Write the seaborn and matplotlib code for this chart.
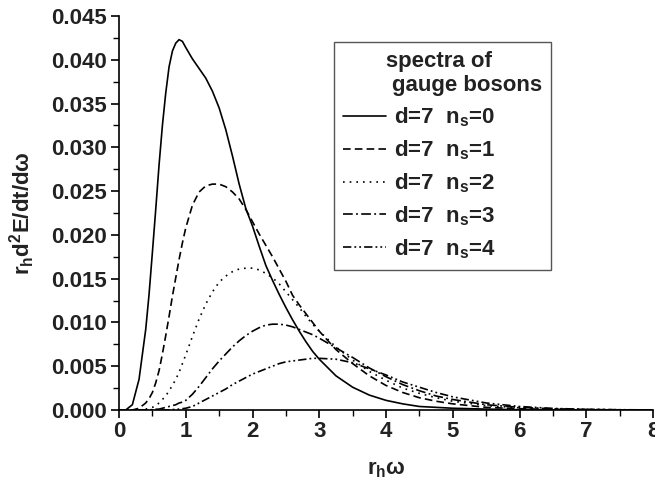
import numpy as np
import pandas as pd
import matplotlib
matplotlib.use("Agg")
import matplotlib.pyplot as plt
from matplotlib.ticker import MultipleLocator, FormatStrFormatter
import seaborn as sns

# Frequency grid (r_h * omega)
omega = [0.0, 0.1, 0.2, 0.3, 0.4, 0.45, 0.5, 0.55, 0.6, 0.65, 0.7, 0.75, 0.8, 0.85, 0.9, 0.95,
         1.0, 1.1, 1.2, 1.3, 1.4, 1.5, 1.6, 1.7, 1.8, 1.9,
         2.0, 2.1, 2.2, 2.3, 2.4, 2.5, 2.6, 2.7, 2.8, 2.9,
         3.0, 3.25, 3.5, 3.75, 4.0, 4.25, 4.5, 4.75, 5.0,
         5.5, 6.0, 6.5, 7.0, 7.5, 8.0]

# Emission spectra of gauge bosons, d=7, for n_s = 0..4
spec_ns0 = [0.0, 0.0, 0.0006, 0.0035, 0.0092, 0.0132, 0.0180, 0.0229, 0.0280, 0.0325, 0.0362, 0.0392,
            0.0410, 0.0419, 0.0423, 0.0421,
            0.0414, 0.0401, 0.0390, 0.0379, 0.0364, 0.0345, 0.0320, 0.0290, 0.0258, 0.0230,
            0.0210, 0.0187, 0.0165, 0.0148, 0.0132, 0.0117, 0.0103, 0.0090, 0.0078, 0.0067,
            0.0058, 0.0039, 0.0026, 0.0017, 0.0011, 0.0007, 0.0004, 0.0003, 0.0002,
            0.0001, 0.00003, 0.00001, 0.0, 0.0, 0.0]
spec_ns1 = [0.0, 0.0, 0.0, 0.0002, 0.0008, 0.0013, 0.0020, 0.0031, 0.0045, 0.0064, 0.0085, 0.0107,
            0.0130, 0.0151, 0.0172, 0.0191,
            0.0208, 0.0234, 0.0249, 0.0256, 0.0258, 0.0258, 0.0255, 0.0249, 0.0241, 0.0229,
            0.0215, 0.0201, 0.0188, 0.0175, 0.0161, 0.0147, 0.0131, 0.0120, 0.0110, 0.0100,
            0.0090, 0.0069, 0.0053, 0.0039, 0.0028, 0.0020, 0.0014, 0.0010, 0.0007,
            0.0003, 0.00015, 0.00006, 0.00002, 0.0, 0.0]
spec_ns2 = [0.0, 0.0, 0.0, 0.0, 0.0001, 0.0002, 0.0003, 0.0005, 0.0008, 0.0012, 0.0016, 0.0022,
            0.0028, 0.0035, 0.0043, 0.0053,
            0.0063, 0.0084, 0.0104, 0.0121, 0.0135, 0.0146, 0.0153, 0.0158, 0.0161, 0.0162,
            0.0162, 0.0160, 0.0156, 0.0151, 0.0144, 0.0135, 0.0126, 0.0117, 0.0107, 0.0098,
            0.0090, 0.0072, 0.0057, 0.0044, 0.0034, 0.0025, 0.0019, 0.0014, 0.0010,
            0.0005, 0.00025, 0.00012, 0.00005, 0.00002, 0.0]
spec_ns3 = [0.0, 0.0, 0.0, 0.0, 0.0, 0.0, 0.00005, 0.00008, 0.0001, 0.0002, 0.0003, 0.0004,
            0.0005, 0.0006, 0.0008, 0.0009,
            0.0011, 0.0018, 0.0027, 0.0037, 0.0047, 0.0056, 0.0064, 0.0072, 0.0079, 0.0085,
            0.0090, 0.0094, 0.0097, 0.0098, 0.0098, 0.0097, 0.0095, 0.0092, 0.0089, 0.0086,
            0.0082, 0.0071, 0.0060, 0.0048, 0.0038, 0.0029, 0.0022, 0.0016, 0.0012,
            0.0006, 0.0003, 0.00013, 0.00006, 0.00002, 0.0]
spec_ns4 = [0.0, 0.0, 0.0, 0.0, 0.0, 0.0, 0.0, 0.0, 0.0, 0.0, 0.0, 0.00002,
            0.00005, 0.00007, 0.0001, 0.00015,
            0.0002, 0.0004, 0.0008, 0.0012, 0.0016, 0.0020, 0.0024, 0.0029, 0.0033, 0.0037,
            0.0041, 0.0044, 0.0047, 0.0050, 0.0053, 0.0055, 0.0056, 0.0057, 0.0058, 0.0059,
            0.0059, 0.0058, 0.0054, 0.0047, 0.0040, 0.0032, 0.0026, 0.0020, 0.0015,
            0.0008, 0.0004, 0.00018, 0.00008, 0.00003, 0.00001]

labels = ["d=7  n$_s$=0", "d=7  n$_s$=1", "d=7  n$_s$=2", "d=7  n$_s$=3", "d=7  n$_s$=4"]
series = [spec_ns0, spec_ns1, spec_ns2, spec_ns3, spec_ns4]
styles = ["-",
          (0, (5.5, 3.0)),
          (0, (1.2, 3.6)),
          (0, (7.0, 2.4, 1.3, 2.4)),
          (0, (6.0, 2.2, 1.3, 2.2, 1.3, 2.2))]

FS = 16

sns.set_theme(style="ticks")
plt.rcParams["font.family"] = ["Liberation Sans", "DejaVu Sans"]
plt.rcParams["font.weight"] = "bold"
plt.rcParams["mathtext.fontset"] = "custom"
plt.rcParams["mathtext.rm"] = "Liberation Sans:bold"
plt.rcParams["mathtext.bf"] = "Liberation Sans:bold"
plt.rcParams["mathtext.default"] = "bf"
plt.rcParams["lines.scale_dashes"] = False

fig = plt.figure(figsize=(6.55, 4.82), dpi=100)
ax = fig.add_axes([0.1817, 0.1494, 0.8153, 0.8174])

for vals, lab, ls in zip(series, labels, styles):
    df = pd.DataFrame({"omega": omega, "spec": vals})
    sns.lineplot(data=df, x="omega", y="spec", ax=ax, color="black",
                 linewidth=1.2, linestyle=ls, label=lab, estimator=None)

ax.set_xlim(0, 8)
ax.set_ylim(0, 0.045)
ax.xaxis.set_major_locator(MultipleLocator(1))
ax.xaxis.set_minor_locator(MultipleLocator(0.5))
ax.yaxis.set_major_locator(MultipleLocator(0.005))
ax.yaxis.set_minor_locator(MultipleLocator(0.0025))
ax.yaxis.set_major_formatter(FormatStrFormatter("%.3f"))

for s in ["top", "right"]:
    ax.spines[s].set_visible(False)
for s in ["left", "bottom"]:
    ax.spines[s].set_linewidth(1.2)
    ax.spines[s].set_color("black")

ax.tick_params(axis="both", which="major", direction="out", length=6, width=1.2,
               labelsize=FS, color="black", labelcolor="#222222")
ax.tick_params(axis="both", which="minor", direction="out", length=4, width=1.0,
               color="black")
ax.tick_params(axis="y", which="major", pad=3)
ax.tick_params(axis="x", which="major", pad=2)
for t in ax.get_xticklabels() + ax.get_yticklabels():
    t.set_fontweight("bold")

ax.set_xlabel("r$_h$\u03c9", fontsize=FS, fontweight="bold", labelpad=12, color="#222222")
ax.set_ylabel("r$_h$d$^2$E/dt/d\u03c9", fontsize=FS, fontweight="bold", labelpad=10,
              color="#222222")

leg = ax.legend(loc="upper left", bbox_to_anchor=(0.4026, 0.934), borderaxespad=0,
                title="       spectra of\n        gauge bosons", fontsize=FS, title_fontsize=FS,
                frameon=True, fancybox=False, shadow=False, framealpha=1,
                handlelength=1.95, handletextpad=0.36, labelspacing=0.42,
                borderpad=0.4, alignment="left")
leg.get_frame().set_edgecolor("#555555")
leg.get_frame().set_linewidth(1.0)
leg.get_title().set_fontweight("bold")
leg.get_title().set_multialignment("left")
leg.get_title().set_color("#222222")
for t in leg.get_texts():
    t.set_fontweight("bold")
    t.set_color("#222222")

fig.savefig("out.png", dpi=100)
